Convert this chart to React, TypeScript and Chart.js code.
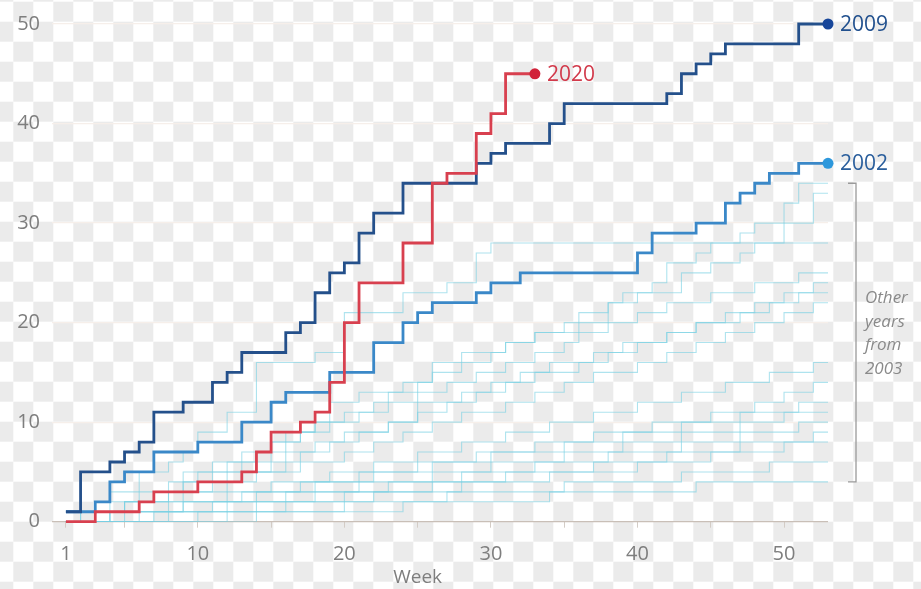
import React, { useEffect, useRef } from "react";
import { Chart, registerables } from "chart.js";

Chart.register(...registerables);

// ---- data: [week, cumulative count] change points ----
const y2009: [number, number][] = [
  [1, 1], [2, 5], [4, 6], [5, 7], [6, 8], [7, 11], [9, 12], [11, 14], [12, 15], [13, 17],
  [16, 19], [17, 20], [18, 23], [19, 25], [20, 26], [21, 29], [22, 31], [24, 34], [29, 36],
  [30, 37], [31, 38], [34, 40], [35, 42], [42, 43], [43, 45], [44, 46], [45, 47], [46, 48],
  [51, 50], [53, 50],
];
const y2020: [number, number][] = [
  [1, 0], [3, 1], [6, 2], [7, 3], [10, 4], [13, 5], [14, 7], [15, 9], [17, 10], [18, 11],
  [19, 14], [20, 20], [21, 24], [24, 28], [26, 34], [27, 35], [29, 39], [30, 41], [31, 45], [33, 45],
];
const y2002: [number, number][] = [
  [1, 1], [3, 2], [4, 4], [5, 5], [7, 7], [10, 8], [13, 10], [15, 12], [16, 13], [19, 15],
  [22, 18], [24, 20], [25, 21], [26, 22], [29, 23], [30, 24], [32, 25], [40, 27], [41, 29],
  [44, 30], [46, 32], [47, 33], [48, 34], [49, 35], [51, 36], [53, 36],
];

const y2003: [number, number][] = [
  [1, 0], [3, 1], [5, 2], [6, 3], [8, 4], [10, 5], [12, 6], [14, 7], [15, 8], [17, 9], [18, 10],
  [20, 11], [22, 12], [23, 13], [25, 14], [26, 15], [28, 16], [30, 17], [31, 18], [33, 19],
  [35, 20], [36, 21], [38, 22], [39, 23], [41, 24], [42, 26], [44, 27], [45, 28], [47, 29],
  [48, 30], [50, 32], [51, 34], [53, 34],
];
const y2004: [number, number][] = [
  [1, 0], [2, 1], [4, 2], [7, 3], [9, 5], [11, 6], [13, 7], [16, 9], [18, 10], [19, 12],
  [21, 13], [24, 14], [26, 16], [28, 17], [31, 18], [33, 19], [36, 20], [38, 22], [40, 23],
  [43, 25], [45, 26], [47, 27], [48, 28], [50, 30], [52, 33], [53, 33],
];
const y2005: [number, number][] = [
  [1, 1], [3, 2], [4, 3], [6, 5], [8, 6], [9, 7], [10, 9], [12, 11], [14, 16], [18, 17],
  [20, 21], [24, 23], [27, 24], [29, 27], [30, 28], [53, 28],
];
const y2006: [number, number][] = [
  [1, 0], [3, 1], [5, 2], [7, 3], [9, 4], [11, 5], [13, 6], [15, 8], [17, 9], [19, 10],
  [21, 11], [23, 12], [25, 13], [27, 14], [29, 15], [31, 16], [33, 17], [35, 18], [36, 19],
  [38, 20], [40, 21], [42, 22], [45, 23], [48, 24], [51, 25], [53, 25],
];
const y2007: [number, number][] = [
  [1, 0], [4, 1], [6, 2], [8, 3], [10, 4], [12, 5], [15, 6], [17, 7], [19, 8], [21, 9],
  [23, 10], [25, 11], [27, 12], [29, 13], [31, 14], [33, 15], [36, 16], [38, 17], [40, 18],
  [42, 19], [44, 20], [46, 21], [48, 22], [50, 23], [52, 24], [53, 24],
];
const y2008: [number, number][] = [
  [1, 0], [2, 1], [5, 2], [8, 3], [11, 4], [13, 5], [16, 7], [18, 8], [20, 9], [23, 10],
  [25, 12], [28, 13], [30, 14], [32, 15], [34, 16], [37, 17], [39, 18], [42, 19], [44, 20],
  [47, 21], [49, 22], [51, 23], [53, 23],
];
const y2010: [number, number][] = [
  [1, 0], [3, 1], [6, 2], [9, 3], [12, 4], [14, 5], [17, 6], [20, 7], [22, 8], [24, 9],
  [26, 10], [28, 11], [31, 12], [33, 13], [35, 14], [37, 15], [40, 16], [42, 17], [44, 18],
  [46, 19], [48, 20], [50, 21], [52, 22], [53, 22],
];
const y2011: [number, number][] = [
  [1, 0], [4, 1], [8, 2], [12, 3], [15, 4], [19, 5], [22, 6], [25, 7], [28, 8], [31, 9],
  [34, 10], [37, 11], [40, 12], [43, 13], [46, 14], [49, 15], [52, 16], [53, 16],
];
const y2012: [number, number][] = [
  [1, 0], [5, 1], [9, 2], [13, 3], [17, 4], [21, 5], [25, 6], [29, 7], [33, 8], [37, 9],
  [41, 10], [45, 11], [48, 12], [50, 13], [52, 14], [53, 14],
];
const y2013: [number, number][] = [
  [1, 0], [4, 1], [9, 2], [14, 3], [18, 4], [22, 5], [26, 6], [30, 7], [35, 8], [39, 9],
  [43, 10], [47, 11], [51, 12], [53, 12],
];
const y2014: [number, number][] = [
  [1, 0], [6, 1], [11, 2], [16, 3], [21, 4], [26, 5], [30, 6], [35, 7], [39, 8], [43, 9],
  [47, 10], [50, 11], [53, 11],
];
const y2015: [number, number][] = [
  [1, 0], [7, 1], [12, 2], [18, 3], [23, 4], [28, 5], [33, 6], [38, 7], [43, 8], [47, 9],
  [51, 10], [53, 10],
];
const y2016: [number, number][] = [
  [1, 0], [8, 1], [14, 2], [20, 3], [26, 4], [31, 5], [37, 6], [42, 7], [47, 8], [52, 9], [53, 9],
];
const y2017: [number, number][] = [
  [1, 0], [10, 1], [16, 2], [22, 3], [28, 4], [34, 5], [40, 6], [45, 7], [50, 8], [53, 8],
];
const y2018: [number, number][] = [
  [1, 0], [12, 1], [20, 2], [27, 3], [35, 4], [43, 5], [49, 6], [53, 6],
];
const y2019: [number, number][] = [
  [1, 0], [14, 1], [24, 2], [34, 3], [44, 4], [53, 4],
];

const otherYears = [
  y2003, y2004, y2005, y2006, y2007, y2008, y2010, y2011, y2012, y2013, y2014, y2015,
  y2016, y2017, y2018, y2019,
];

const WEEK_TICKS = [1, 5, 10, 15, 20, 25, 30, 35, 40, 45, 50];
const WEEK_LABELS = [1, 10, 20, 30, 40, 50];
const Y_TICK_STEP = 10;
const BRACKET_RANGE: [number, number] = [4, 34];
const BRACKET_TEXT = ["Other", "years", "from", "2003"];

const FONT = '"Open Sans", "DejaVu Sans", sans-serif';
const GREY = "#7e7e7e";

const toXY = (arr: [number, number][]) => arr.map(([x, y]) => ({ x, y }));

export default function App() {
  const ref = useRef<HTMLCanvasElement | null>(null);

  useEffect(() => {
    if (!ref.current) return;

    const mainLabels: Record<string, { text: string; color: string }> = {
      "2020": { text: "2020", color: "#d23a4b" },
      "2009": { text: "2009", color: "#21508e" },
      "2002": { text: "2002", color: "#2a5e9c" },
    };

    const checker = {
      id: "checker",
      beforeDraw(chart: any) {
        const { ctx, width, height } = chart;
        const size = 20;
        const ox = 13.3;
        const oy = 1.7;
        ctx.save();
        ctx.fillStyle = "#ffffff";
        ctx.fillRect(0, 0, width, height);
        ctx.fillStyle = "#ebebeb";
        for (let j = -1; j * size + oy < height; j++) {
          for (let i = -1; i * size + ox < width; i++) {
            if (((i + j) % 2 + 2) % 2 === 0) {
              ctx.fillRect(ox + i * size, oy + j * size, size, size);
            }
          }
        }
        ctx.restore();
      },
    };

    const annotations = {
      id: "annotations",
      afterDatasetsDraw(chart: any) {
        const { ctx, scales } = chart;
        const xs = scales.x;
        const ys = scales.y;
        ctx.save();
        // end labels
        chart.data.datasets.forEach((ds: any, i: number) => {
          const info = mainLabels[ds.label];
          if (!info) return;
          const meta = chart.getDatasetMeta(i);
          const pt = meta.data[meta.data.length - 1];
          ctx.font = `500 21px ${FONT}`;
          ctx.fillStyle = info.color;
          ctx.textAlign = "left";
          ctx.textBaseline = "middle";
          ctx.fillText(info.text, pt.x + 12, pt.y + 1);
        });
        // bracket
        const bx = 856;
        const yTop = ys.getPixelForValue(BRACKET_RANGE[1]);
        const yBot = ys.getPixelForValue(BRACKET_RANGE[0]);
        ctx.strokeStyle = "#9a9a9a";
        ctx.lineWidth = 1.3;
        ctx.beginPath();
        ctx.moveTo(bx - 8, yTop);
        ctx.lineTo(bx, yTop);
        ctx.lineTo(bx, yBot);
        ctx.lineTo(bx - 8, yBot);
        ctx.stroke();
        ctx.font = `italic 17px ${FONT}`;
        ctx.fillStyle = "#8a8a8a";
        ctx.textAlign = "left";
        ctx.textBaseline = "middle";
        const mid = (yTop + yBot) / 2 + 1;
        const lh = 23.5;
        BRACKET_TEXT.forEach((t, k) => {
          ctx.fillText(t, 865, mid + (k - (BRACKET_TEXT.length - 1) / 2) * lh);
        });
        // axis title
        ctx.font = `19px ${FONT}`;
        ctx.fillStyle = GREY;
        ctx.textAlign = "center";
        ctx.fillText("Week", xs.getPixelForValue(25), 578);
        ctx.restore();
      },
    };

    const lightSets = otherYears.map((arr, i) => ({
      label: "other" + i,
      data: toXY(arr),
      borderColor: "rgba(120, 208, 226, 0.6)",
      borderWidth: 1.1,
      stepped: true as const,
      pointRadius: 0,
      fill: false,
    }));

    const mainSet = (label: string, arr: [number, number][], color: string, dot: string) => ({
      label,
      data: toXY(arr),
      borderColor: color,
      borderWidth: 2.8,
      stepped: true as const,
      clip: false as const,
      pointRadius: (c: any) => (c.dataIndex === arr.length - 1 ? 5.5 : 0),
      pointBackgroundColor: dot,
      pointBorderColor: dot,
      pointBorderWidth: 0,
      fill: false,
    });

    const chart = new Chart(ref.current, {
      type: "line",
      data: {
        datasets: [
          mainSet("2020", y2020, "#d8404f", "#d12239"),
          mainSet("2009", y2009, "#24508b", "#17469a"),
          mainSet("2002", y2002, "#3a88c8", "#2e98dc"),
          ...lightSets,
        ],
      },
      options: {
        animation: false,
        responsive: false,
        maintainAspectRatio: false,
        layout: { padding: { top: 22, right: 93, bottom: 8.3, left: 0 } },
        plugins: { legend: { display: false }, tooltip: { enabled: false } },
        elements: { line: { tension: 0 } },
        scales: {
          x: {
            type: "linear",
            min: 0.05,
            max: 53,
            afterBuildTicks: (axis: any) => {
              axis.ticks = WEEK_TICKS.map((v) => ({ value: v }));
            },
            ticks: {
              autoSkip: false,
              maxRotation: 0,
              padding: 14.5,
              color: GREY,
              font: { family: FONT, size: 20 },
              callback: (v: any) => (WEEK_LABELS.includes(Number(v)) ? String(v) : ""),
            },
            grid: {
              drawOnChartArea: false,
              drawTicks: true,
              tickLength: 6,
              color: "#d3ccc6",
            },
            border: { display: false },
          },
          y: {
            min: 0,
            max: 50,
            ticks: {
              stepSize: Y_TICK_STEP,
              padding: 12,
              color: GREY,
              font: { family: FONT, size: 20 },
            },
            grid: {
              drawTicks: false,
              color: (c: any) => (c.tick && c.tick.value === 0 ? "#c9bfb7" : "#f6efea"),
              lineWidth: (c: any) => (c.tick && c.tick.value === 0 ? 1.3 : 1.2),
            },
            border: { display: false },
            afterFit: (s: any) => {
              s.width = 52;
            },
          },
        },
      },
      plugins: [checker, annotations],
    });

    return () => chart.destroy();
  }, []);

  return (
    <div style={{ position: "fixed", left: 0, top: 0, width: 921, height: 589, background: "#fff" }}>
      <canvas ref={ref} width={921} height={589} style={{ width: 921, height: 589, display: "block" }} />
    </div>
  );
}
